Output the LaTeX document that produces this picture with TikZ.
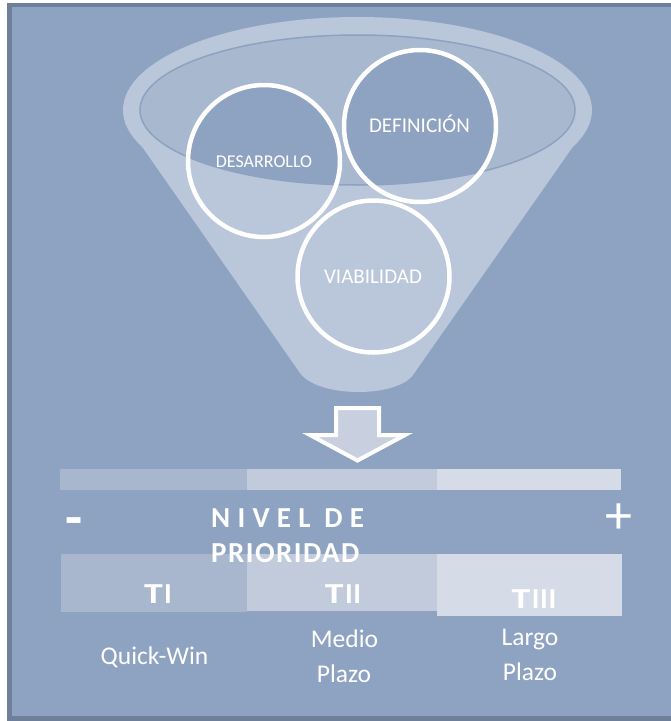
\documentclass[tikz,border=0pt]{standalone}
\usepackage{graphicx}
\usepackage{fontspec}
\setmainfont{Carlito}
\newfontfamily\spacedfont[LetterSpace=25]{Carlito}
\newfontfamily\tightfont[LetterSpace=5]{Carlito}
\newfontfamily\tierfont[LetterSpace=2]{Carlito}
\newcommand{\wideT}{\scalebox{1.3}[1]{T}\kern1.5pt}
\definecolor{bgc}{HTML}{8EA3C1}
\definecolor{framec}{HTML}{6E8099}
\definecolor{funnelc}{HTML}{BAC6D9}
\definecolor{innerc}{HTML}{A8B8CF}
\definecolor{innerline}{HTML}{8DA2C1}
\definecolor{colA}{HTML}{A8B7CE}
\definecolor{colB}{HTML}{C1CBDC}
\definecolor{colC}{HTML}{D5DCE7}
\definecolor{arrowc}{HTML}{C8D0DF}
\tikzset{
  ring/.style={circle, draw=white, line width=4.5pt, minimum size=152pt, inner sep=0pt},
  lbl/.style={text=white, inner sep=0pt, anchor=base},
  circtxt/.style={lbl, font=\fontsize{21}{24}\selectfont},
  tierlbl/.style={lbl, font=\tierfont\bfseries\fontsize{29}{32}\selectfont},
  sublbl/.style={lbl, font=\fontsize{25.5}{30}\selectfont},
  blockarrow/.style={draw=white, line width=4pt, fill=arrowc, line join=miter},
}
\begin{document}
\begin{tikzpicture}[x=1pt,y=-1pt]
\useasboundingbox (0,0) rectangle (671,721);
\fill[white] (0,0) rectangle (671,721);
\fill[framec] (7,3) rectangle (671,721);
\fill[bgc] (12,7) rectangle (671,716);
% funnel
\fill[funnelc] (357.5,110) ellipse [x radius=234.5pt, y radius=93pt];
\fill[funnelc] (125.5,123) -- (300,373) .. controls (318,398) and (396,398) .. (413,375) -- (589.5,123) -- cycle;
\filldraw[fill=innerc, draw=innerline, line width=1.5pt] (357.5,110) ellipse [x radius=217.5pt, y radius=75pt];
\begin{scope}
  \clip (357.5,110) ellipse [x radius=217pt, y radius=74.5pt];
  \fill[bgc] (264,161) circle [radius=77pt];
  \fill[bgc] (420,126) circle [radius=77pt];
\end{scope}
% circles
\node[ring] (des) at (264,161) {};
\node[ring] (def) at (420,126) {};
\node[ring] (via) at (373.5,276.5) {};
\node[lbl, font=\fontsize{18}{21}\selectfont] (destxt) at (264,167.3) {DESARROLLO};
\node[circtxt] (deftxt) at (419.5,132.3) {DEFINICIÓN};
\node[circtxt] (viatxt) at (373,283.3) {VIABILIDAD};
% arrow
\draw[blockarrow] (336,408) -- (379,408) -- (379,435) -- (405,435) -- (357.5,460.5) -- (310,435) -- (336,435) -- cycle;
% top bar
\fill[colA] (60,469) rectangle (246.5,490);
\fill[colB] (246.5,469) rectangle (436.5,490);
\fill[colC] (436.5,469) rectangle (621,490);
% boxes
\fill[colA] (61,554) rectangle (247,612);
\fill[colB] (247,554) rectangle (437,611);
\fill[colC] (437,554) rectangle (622,616);
% minus / plus
\node[lbl, anchor=center, font=\bfseries\fontsize{56}{56}\selectfont] (minus) at (74,527) {-};
\node[lbl, anchor=center, font=\fontsize{54}{54}\selectfont] (plus) at (618.5,519) {+};
% nivel de prioridad
\node[lbl, anchor=base west, font=\spacedfont\bfseries\fontsize{29}{32}\selectfont] (nivel) at (211,527) {NIVEL DE};
\node[lbl, anchor=base west, font=\tightfont\bfseries\fontsize{29}{32}\selectfont] (prio) at (211,562) {PRIORIDAD};
% tiers
\node[tierlbl] (t1) at (158,603) {\wideT I};
\node[tierlbl] (t2) at (343,603) {\wideT II};
\node[tierlbl] (t3) at (534,608) {\wideT III};
% sublabels
\node[sublbl] (qw) at (154.5,664) {Quick-Win};
\node[sublbl] (medio) at (344.5,647) {Medio};
\node[sublbl] (plazo1) at (344,682) {Plazo};
\node[sublbl] (largo) at (530,645) {Largo};
\node[sublbl] (plazo2) at (530,680) {Plazo};
\end{tikzpicture}
\end{document}
